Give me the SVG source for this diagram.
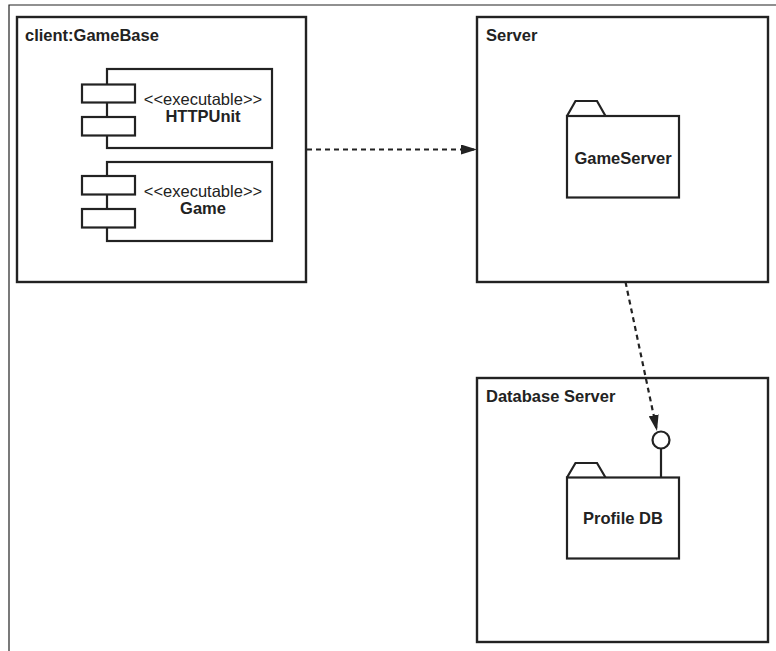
<svg xmlns="http://www.w3.org/2000/svg" width="776" height="651" viewBox="0 0 776 651">
<style>
.box{fill:none;stroke:#222;stroke-width:2.4}
.thin{fill:none;stroke:#222;stroke-width:1.2}
.lbl{font-family:"Liberation Sans",Arial,sans-serif;font-weight:bold;font-size:16.5px;fill:#222}
.st{font-family:"Liberation Sans",Arial,sans-serif;font-size:16.5px;fill:#222;text-anchor:middle}
.ctr{text-anchor:middle}
.comp{fill:#fff;stroke:#222;stroke-width:2.2}
.dash{fill:none;stroke:#222;stroke-width:2.2;stroke-dasharray:5 4}
</style>
<defs>
<marker id="arr" markerWidth="16" markerHeight="10" refX="16" refY="5" orient="auto" markerUnits="userSpaceOnUse">
<path d="M0,0 L16,5 L0,10 Z" fill="#222"/>
</marker>
</defs>
<rect width="776" height="651" fill="#fff"/>
<path class="thin" d="M776,5 H9 V651"/>
<g id="client">
<rect class="box" x="17" y="17" width="289" height="265"/>
<text class="lbl" x="25" y="41">client:GameBase</text>
</g>
<g id="httpunit">
<rect class="comp" x="107" y="69" width="165" height="79"/>
<rect class="comp" x="82" y="84.5" width="53" height="18"/>
<rect class="comp" x="82" y="117" width="53" height="18.5"/>
<text class="st" x="203" y="105">&lt;&lt;executable&gt;&gt;</text>
<text class="lbl ctr" x="203" y="122">HTTPUnit</text>
</g>
<g id="game">
<rect class="comp" x="107" y="162" width="165" height="79"/>
<rect class="comp" x="82" y="176" width="53" height="18.5"/>
<rect class="comp" x="82" y="209" width="53" height="18.5"/>
<text class="st" x="203" y="197">&lt;&lt;executable&gt;&gt;</text>
<text class="lbl ctr" x="203" y="213.5">Game</text>
</g>
<g id="server">
<rect class="box" x="477" y="17" width="291" height="265"/>
<text class="lbl" x="486" y="41">Server</text>
</g>
<g id="gameserver">
<path class="comp" d="M567,116 L575.5,101 H597 L605.5,116"/>
<rect class="comp" x="567" y="116" width="112" height="81.5"/>
<text class="lbl ctr" x="623" y="163.5">GameServer</text>
</g>
<g id="dbserver">
<rect class="box" x="477" y="378" width="291" height="264"/>
<text class="lbl" x="486" y="402">Database Server</text>
</g>
<g id="profiledb">
<path class="comp" d="M567,477.5 L575.5,463 H597 L605.5,477.5"/>
<rect class="comp" x="567" y="477.5" width="112" height="81"/>
<text class="lbl ctr" x="623" y="524">Profile DB</text>
<line x1="661" y1="449" x2="661" y2="477.5" stroke="#222" stroke-width="2.2"/>
<circle cx="661" cy="440" r="8.5" fill="#fff" stroke="#222" stroke-width="2.2"/>
</g>
<g id="connectors">
<line class="dash" x1="307" y1="149.5" x2="477" y2="149.5" marker-end="url(#arr)"/>
<line class="dash" x1="625.5" y1="282" x2="657" y2="431" marker-end="url(#arr)"/>
</g>
</svg>
